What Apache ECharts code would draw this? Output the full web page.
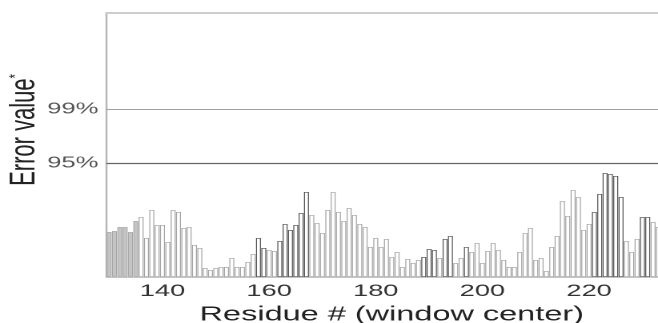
<!DOCTYPE html>
<html>
<head>
<meta charset="utf-8">
<title>Error value by residue</title>
<script src="https://cdn.jsdelivr.net/npm/echarts@6/dist/echarts.min.js"></script>
<style>
  html, body { margin: 0; padding: 0; background: #fff; overflow: hidden; }
  #wrap { width: 658px; height: 323px; overflow: hidden; }
  /* the source figure is stretched sideways, so the chart is drawn narrow and scaled */
  #chart { width: 411px; height: 323px; transform: scaleX(1.601); transform-origin: 0 0; }
</style>
</head>
<body>
<div id="wrap"><div id="chart"></div></div>
<script>
const residues = [
  130, 131, 132, 133, 134, 135, 136, 137, 138, 139,
  140, 141, 142, 143, 144, 145, 146, 147, 148, 149,
  150, 151, 152, 153, 154, 155, 156, 157, 158, 159,
  160, 161, 162, 163, 164, 165, 166, 167, 168, 169,
  170, 171, 172, 173, 174, 175, 176, 177, 178, 179,
  180, 181, 182, 183, 184, 185, 186, 187, 188, 189,
  190, 191, 192, 193, 194, 195, 196, 197, 198, 199,
  200, 201, 202, 203, 204, 205, 206, 207, 208, 209,
  210, 211, 212, 213, 214, 215, 216, 217, 218, 219,
  220, 221, 222, 223, 224, 225, 226, 227, 228, 229,
  230, 231, 232, 233
];

// bar heights (arbitrary error units)
const errorValues = [
  45, 46, 50, 50, 45, 56, 60, 39, 67, 52,
  52, 35, 67, 65, 49, 50, 32, 29, 9, 7,
  9, 10, 10, 19, 10, 10, 15, 23, 39, 29,
  27, 26, 36, 53, 47, 52, 64, 85, 62, 54,
  44, 67, 85, 65, 56, 69, 62, 53, 50, 30,
  39, 30, 38, 20, 25, 10, 18, 14, 17, 20,
  28, 27, 19, 38, 41, 14, 19, 30, 25, 34,
  14, 26, 34, 27, 17, 10, 10, 25, 44, 49,
  17, 19, 6, 30, 41, 76, 61, 87, 80, 47,
  53, 65, 83, 104, 103, 101, 80, 36, 25, 38,
  60, 60, 55, 50
];

// 0 = reference window (filled), 1 = light outline, 2 = dark outline
const windowGroup = [
  0, 0, 0, 0, 0, 0, 1, 1, 1, 1,
  1, 1, 1, 1, 1, 1, 1, 1, 1, 1,
  1, 1, 1, 1, 1, 1, 1, 1, 2, 2,
  1, 1, 2, 2, 2, 2, 2, 2, 1, 1,
  1, 1, 1, 1, 1, 1, 1, 1, 1, 1,
  1, 1, 1, 1, 1, 1, 1, 1, 1, 2,
  2, 2, 1, 2, 2, 1, 1, 2, 1, 1,
  1, 1, 1, 1, 1, 1, 1, 1, 1, 1,
  1, 1, 1, 1, 1, 1, 1, 1, 1, 1,
  1, 2, 2, 2, 2, 2, 2, 1, 1, 1,
  2, 2, 1, 1
];

const xTickLabels = [140, 160, 180, 200, 220];
const thresholdValues = [114, 168];
const thresholdLabels = ["95%", "99%"];

const groupStyles = [
  { color: "#c4c4c4", borderColor: "#a4a4a4", borderWidth: 0.5 },
  { color: "#ffffff", borderColor: "#a2a2a2", borderWidth: 0.6 },
  { color: "#ffffff", borderColor: "#4e4e4e", borderWidth: 0.6 },
];

const font = "'Liberation Sans', Arial, Helvetica, sans-serif";

const chart = echarts.init(document.getElementById("chart"), null, { devicePixelRatio: 2 });

chart.setOption({
  animation: false,
  grid: {
    left: 66.5,
    top: 13,
    width: 346.4,
    height: 264,
    containLabel: false,
    outerBoundsMode: "none",
  },
  xAxis: [
    {
      type: "category",
      data: residues,
      boundaryGap: true,
      axisLine: { show: true, lineStyle: { color: "#c4c4c4", width: 1 } },
      axisTick: { show: false },
      axisLabel: {
        interval: (idx, val) => xTickLabels.includes(Number(val)),
        margin: 6,
        fontFamily: font,
        fontSize: 17,
        color: "#333",
      },
      name: "Residue # (window center)",
      nameLocation: "middle",
      nameGap: 28,
      nameMoveOverlap: false,
      nameTextStyle: {
        fontFamily: font,
        fontSize: 20.3,
        color: "#222",
        padding: [0, 0, 0, 10],
      },
    },
    {
      type: "value",
      position: "top",
      axisLine: { show: true, lineStyle: { color: "#cdcdcd", width: 2 } },
      axisTick: { show: false },
      axisLabel: { show: false },
      splitLine: { show: false },
    },
  ],
  yAxis: {
    type: "value",
    min: 0,
    max: 264,
    interval: 6,
    axisLine: { show: true, lineStyle: { color: "#b8b8b8", width: 1.3 } },
    axisTick: { show: false },
    splitLine: { show: false },
    axisLabel: {
      margin: 5,
      fontFamily: font,
      fontSize: 16,
      color: "#555",
      formatter: (v) => {
        const k = thresholdValues.indexOf(v);
        return k >= 0 ? thresholdLabels[k] : "";
      },
    },
    name: "Error value{s|*}",
    nameLocation: "middle",
    nameGap: 40,
    nameMoveOverlap: false,
    nameTextStyle: {
      fontFamily: font,
      fontSize: 22,
      color: "#222",
      padding: [0, 0, 0, 30],
      rich: {
        s: { fontFamily: font, fontSize: 11, color: "#222", verticalAlign: "top" },
      },
    },
  },
  series: [
    {
      type: "bar",
      xAxisIndex: 0,
      barCategoryGap: "8%",
      data: errorValues.map((v, i) => ({
        value: v,
        itemStyle: groupStyles[windowGroup[i]],
      })),
      markLine: {
        silent: true,
        symbol: "none",
        label: { show: false },
        data: [
          { yAxis: thresholdValues[0], lineStyle: { color: "#666", width: 1.2, type: "solid" } },
          { yAxis: thresholdValues[1], lineStyle: { color: "#a0a0a0", width: 1, type: "solid" } },
        ],
      },
    },
  ],
});
</script>
</body>
</html>
